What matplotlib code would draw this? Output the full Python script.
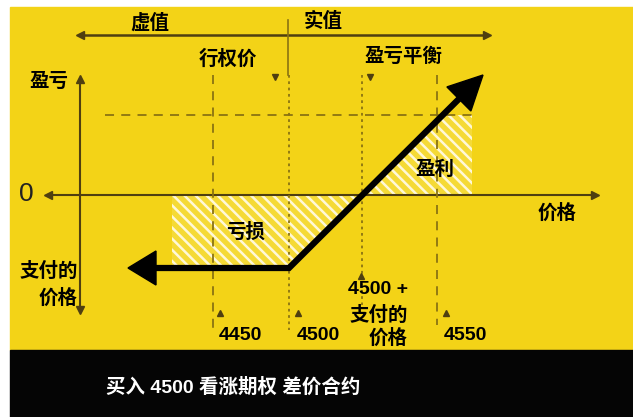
import numpy as np
import matplotlib
matplotlib.use("Agg")
import matplotlib.pyplot as plt
from matplotlib.patches import Rectangle, Polygon

plt.rcParams['font.family'] = ['Liberation Sans', 'Noto Sans CJK SC', 'DejaVu Sans']
plt.rcParams['hatch.linewidth'] = 1.8

# diagram units (schematic, pixel-like)
payoff_x = [128, 289, 483]          # far left, strike 4500, top right
payoff_y = [268, 268, 75]
zero_y = 195
max_profit_y = 115
breakeven_x = 362
loss_left_x = 172
profit_right_x = 472

price_labels = ['4450', '4500', '4550']
price_label_x = [240, 318, 465]
guide_x = [213, 289, 362, 437]      # 4450, 4500, breakeven, 4550
guide_style = ['dashed', 'dotted', 'dotted', 'dashed']
guide_bottom = [330, 330, 305, 325]

title = '买入 4500 看涨期权 差价合约'

YELLOW = '#F3D317'
DARK = '#4f3f10'
GUIDE = '#8a7312'

fig = plt.figure(figsize=(6.33, 4.17), dpi=100)
ax = fig.add_axes([0, 0, 1, 1])
ax.set_xlim(0, 633)
ax.set_ylim(417, 0)
ax.axis('off')

ax.add_patch(Rectangle((10, 7), 623, 343, color=YELLOW, zorder=0))
ax.add_patch(Rectangle((10, 350), 623, 67, color='#050505', zorder=0))

# hatched loss / profit areas
loss = Polygon([(loss_left_x, zero_y), (breakeven_x, zero_y),
                (payoff_x[1], payoff_y[1]), (loss_left_x, payoff_y[1])],
               facecolor='#F5DA36', edgecolor='#FFF8D8', hatch='\\\\\\', lw=0, zorder=1)
kx = payoff_x[1] + (payoff_y[1] - max_profit_y) * (payoff_x[2] - payoff_x[1]) / (payoff_y[1] - payoff_y[2])
profit = Polygon([(breakeven_x, zero_y), (profit_right_x, zero_y),
                  (profit_right_x, max_profit_y), (kx, max_profit_y)],
                 facecolor='#F5DA36', edgecolor='#FFF8D8', hatch='\\\\\\', lw=0, zorder=1)
ax.add_patch(loss)
ax.add_patch(profit)

# top in/out of the money arrow
ax.plot([80, 487], [35, 35], color=DARK, lw=1.8, zorder=2)
ax.plot([80], [35], marker='<', color=DARK, ms=6, zorder=2)
ax.plot([487], [35], marker='>', color=DARK, ms=6, zorder=2)
ax.plot([288, 288], [20, 75], color=GUIDE, lw=1.2, zorder=2)

# axes
ax.plot([80, 80], [80, 310], color=DARK, lw=1.5, zorder=2)
ax.plot([80], [79], marker='^', color=DARK, ms=6, zorder=2)
ax.plot([80], [310], marker='v', color=DARK, ms=6, zorder=2)
ax.plot([48, 595], [zero_y, zero_y], color=DARK, lw=1.5, zorder=2)
ax.plot([48], [zero_y], marker='<', color=DARK, ms=6, zorder=2)
ax.plot([595], [zero_y], marker='>', color=DARK, ms=6, zorder=2)

# guides
ax.plot([105, profit_right_x], [max_profit_y, max_profit_y], color=GUIDE, lw=1.3,
        linestyle=(0, (5, 4)), zorder=2)
for gx, st, gb in zip(guide_x, guide_style, guide_bottom):
    ls = (0, (5, 4)) if st == 'dashed' else (0, (1.5, 2))
    ax.plot([gx, gx], [75, gb], color=GUIDE, lw=1.3, linestyle=ls, zorder=2)

ax.plot([275, 370], [77, 77], linestyle='none', marker='v', color=DARK, ms=5, zorder=3)
ax.plot([220, 298, 361, 446], [313, 313, 276, 313], linestyle='none',
        marker='^', color=DARK, ms=5, zorder=3)

# payoff line with arrowheads
def head(tip, prev, length, width):
    tip = np.array(tip, float)
    d = tip - np.array(prev, float)
    d /= np.hypot(*d)
    n = np.array([-d[1], d[0]])
    base = tip - d * length
    ax.add_patch(Polygon([tip, base + n * width / 2, base - n * width / 2],
                         color='black', zorder=5))
    return tip - d * (length - 4)

b0 = head((payoff_x[0], payoff_y[0]), (payoff_x[1], payoff_y[1]), 28, 34)
b2 = head((payoff_x[2], payoff_y[2]), (payoff_x[1], payoff_y[1]), 34, 34)
ax.plot([b0[0], payoff_x[1], b2[0]], [b0[1], payoff_y[1], b2[1]], color='black',
        lw=4.5, solid_joinstyle='miter', solid_capstyle='butt', zorder=4)

kw = dict(fontsize=14, fontweight='bold', color='black', zorder=6)
ax.text(150, 23, '虚值', ha='center', va='center', **kw)
ax.text(323, 21, '实值', ha='center', va='center', **kw)
ax.text(228, 59, '行权价', ha='center', va='center', **kw)
ax.text(403, 57, '盈亏平衡', ha='center', va='center', **kw)
ax.text(49, 82, '盈亏', ha='center', va='center', **kw)
ax.text(26, 194, '0', ha='center', va='center', fontsize=19, color='#222222', zorder=6)
ax.text(557, 213, '价格', ha='center', va='center', **kw)
ax.text(435, 170, '盈利', ha='center', va='center', **kw)
ax.text(246, 232, '亏损', ha='center', va='center', **kw)
ax.text(78, 271, '支付的', ha='right', va='center', **kw)
ax.text(78, 298, '价格', ha='right', va='center', **kw)
for lab, lx in zip(price_labels, price_label_x):
    ax.text(lx, 335, lab, ha='center', va='center', **kw)
ax.text(408, 290, '4500 +', ha='right', va='center', **kw)
ax.text(408, 315, '支付的', ha='right', va='center', **kw)
ax.text(408, 338, '价格', ha='right', va='center', **kw)

ax.text(233, 387, title, ha='center', va='center', fontsize=14, fontweight='bold',
        color='white', zorder=6)

fig.savefig('out.png', dpi=100)
